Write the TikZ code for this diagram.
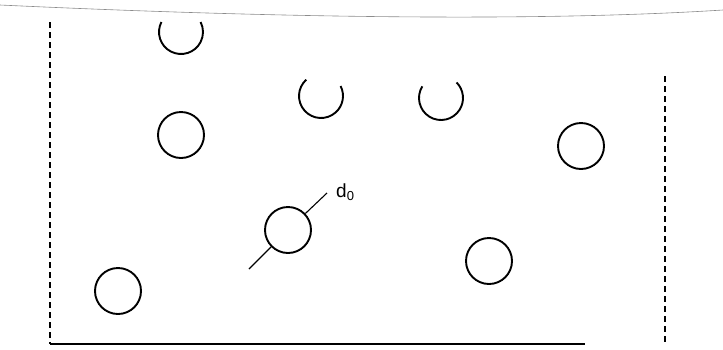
\documentclass[tikz,border=0pt]{standalone}
\usepackage{fontspec}
\setmainfont{Liberation Sans}
\tikzset{
  bubble/.style={line width=1.9pt},
  wall/.style={line width=1.6pt,dash pattern=on 6pt off 4pt},
}
\begin{document}
\begin{tikzpicture}[x=1pt,y=-1pt,line cap=butt,line join=round]
  \useasboundingbox (0,0) rectangle (723,349);
  % paper edge / liquid surface
  \draw[line width=0.6pt,black!45] (0,5) .. controls (300,19) and (550,21) .. (723,10);
  % container
  \draw[wall] (50,22) -- (50,344);
  \draw[wall] (665,76) -- (665,344);
  \draw[line width=1.8pt] (50,344) -- (585,344);
  % bubbles cut at the surface (y runs downward, so angles are mirrored)
  \draw[bubble] (181,32) ++(-153:22) arc[start angle=-153,end angle=-387,radius=22];
  \draw[bubble] (321,96) ++(-132:22) arc[start angle=-132,end angle=-387,radius=22];
  \draw[bubble] (441,98) ++(-148:22) arc[start angle=-148,end angle=-405,radius=22];
  % whole bubbles
  \draw[bubble] (181,135) circle (23);
  \draw[bubble] (581,146) circle (23);
  \draw[bubble] (489,261) circle (23);
  \draw[bubble] (118,291) circle (23);
  \node[bubble,draw,circle,inner sep=0pt,minimum size=46pt] (dbub) at (288,230) {};
  % diameter mark
  \coordinate (d0a) at (249,269);
  \coordinate (d0b) at (327,193);
  \draw[line width=1.1pt] (d0a) -- (dbub);
  \draw[line width=1.1pt] (d0b) -- (dbub);
  \node[font=\fontsize{19}{22}\selectfont,anchor=west,inner sep=0pt] (dlabel) at (336,192) {d\raisebox{-0.35ex}{\fontsize{13}{15}\selectfont 0}};
\end{tikzpicture}
\end{document}
